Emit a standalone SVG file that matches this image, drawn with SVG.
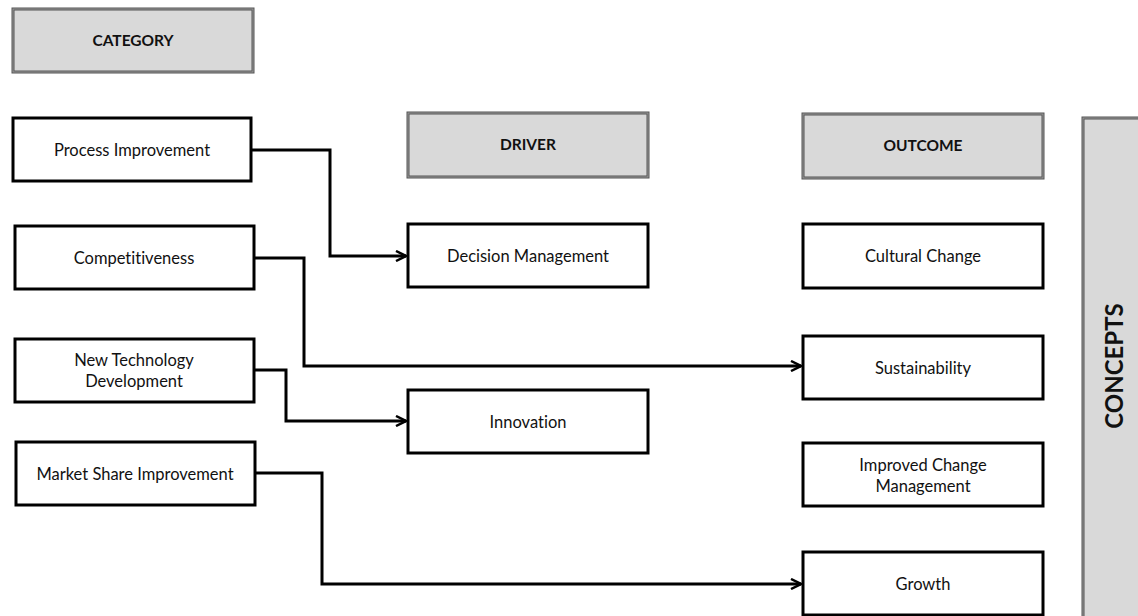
<svg xmlns="http://www.w3.org/2000/svg" width="1138" height="616" viewBox="0 0 1138 616">
<style>
.box{fill:#fff;stroke:#000;stroke-width:3}
.hdr{fill:#d9d9d9;stroke:#555;stroke-width:3}
.hmid{fill:none;stroke:#9a9a9a;stroke-width:1}
.t{font-family:Lato,"Open Sans",sans-serif;font-size:16.5px;fill:#111;text-anchor:middle;font-variant-ligatures:none}
.h{font-family:Lato,"Open Sans",sans-serif;font-size:15.5px;font-weight:bold;fill:#111;text-anchor:middle}
.c{fill:none;stroke:#000;stroke-width:3}
</style>
<defs>
<marker id="arr" viewBox="0 0 12 12" refX="11" refY="6" markerWidth="12" markerHeight="12" markerUnits="userSpaceOnUse" orient="auto">
<path d="M1,1 L11,6 L1,11" fill="none" stroke="#000" stroke-width="2.5"/>
</marker>
</defs>
<rect width="1138" height="616" fill="#fff"/>
<g id="category">
<rect class="hdr" x="13" y="9" width="240" height="63"/><rect class="hmid" x="13" y="9" width="240" height="63"/>
<text class="h" x="133" y="46">CATEGORY</text></g>
<g id="driver">
<rect class="hdr" x="408" y="113" width="240" height="64"/><rect class="hmid" x="408" y="113" width="240" height="64"/>
<text class="h" x="528" y="150">DRIVER</text></g>
<g id="outcome">
<rect class="hdr" x="803" y="114" width="240" height="64"/><rect class="hmid" x="803" y="114" width="240" height="64"/>
<text class="h" x="923" y="151">OUTCOME</text></g>
<g id="concepts">
<rect class="hdr" x="1083" y="118" width="58" height="500"/><rect class="hmid" x="1083" y="118" width="58" height="500"/>
<text class="h" style="font-size:24px" transform="translate(1123,366) rotate(-90)">CONCEPTS</text></g>
<g id="process-improvement"><rect class="box" x="13" y="118" width="238" height="63"/><text class="t" x="132" y="156">Process Improvement</text></g>
<g id="competitiveness"><rect class="box" x="15" y="226" width="239" height="63"/><text class="t" x="134" y="264">Competitiveness</text></g>
<g id="new-technology-development"><rect class="box" x="15" y="339" width="239" height="63"/><text class="t" x="134" y="366">New Technology</text><text class="t" x="134" y="387">Development</text></g>
<g id="market-share-improvement"><rect class="box" x="16" y="442" width="239" height="63"/><text class="t" x="135" y="480">Market Share Improvement</text></g>
<g id="decision-management"><rect class="box" x="408" y="224" width="240" height="63"/><text class="t" x="528" y="262">Decision Management</text></g>
<g id="innovation"><rect class="box" x="408" y="390" width="240" height="63"/><text class="t" x="528" y="428">Innovation</text></g>
<g id="cultural-change"><rect class="box" x="803" y="224" width="240" height="64"/><text class="t" x="923" y="262">Cultural Change</text></g>
<g id="sustainability"><rect class="box" x="803" y="336" width="240" height="63"/><text class="t" x="923" y="374">Sustainability</text></g>
<g id="improved-change-management"><rect class="box" x="803" y="443" width="240" height="63"/><text class="t" x="923" y="471">Improved Change</text><text class="t" x="923" y="492">Management</text></g>
<g id="growth"><rect class="box" x="803" y="552" width="240" height="63"/><text class="t" x="923" y="590">Growth</text></g>
<g id="connectors">
<path class="c" d="M251,150 H330 V256 H406" marker-end="url(#arr)"/>
<path class="c" d="M254,258 H304 V366 H801" marker-end="url(#arr)"/>
<path class="c" d="M254,370 H286 V421 H406" marker-end="url(#arr)"/>
<path class="c" d="M255,473 H322 V584 H801" marker-end="url(#arr)"/>
</g>
</svg>
